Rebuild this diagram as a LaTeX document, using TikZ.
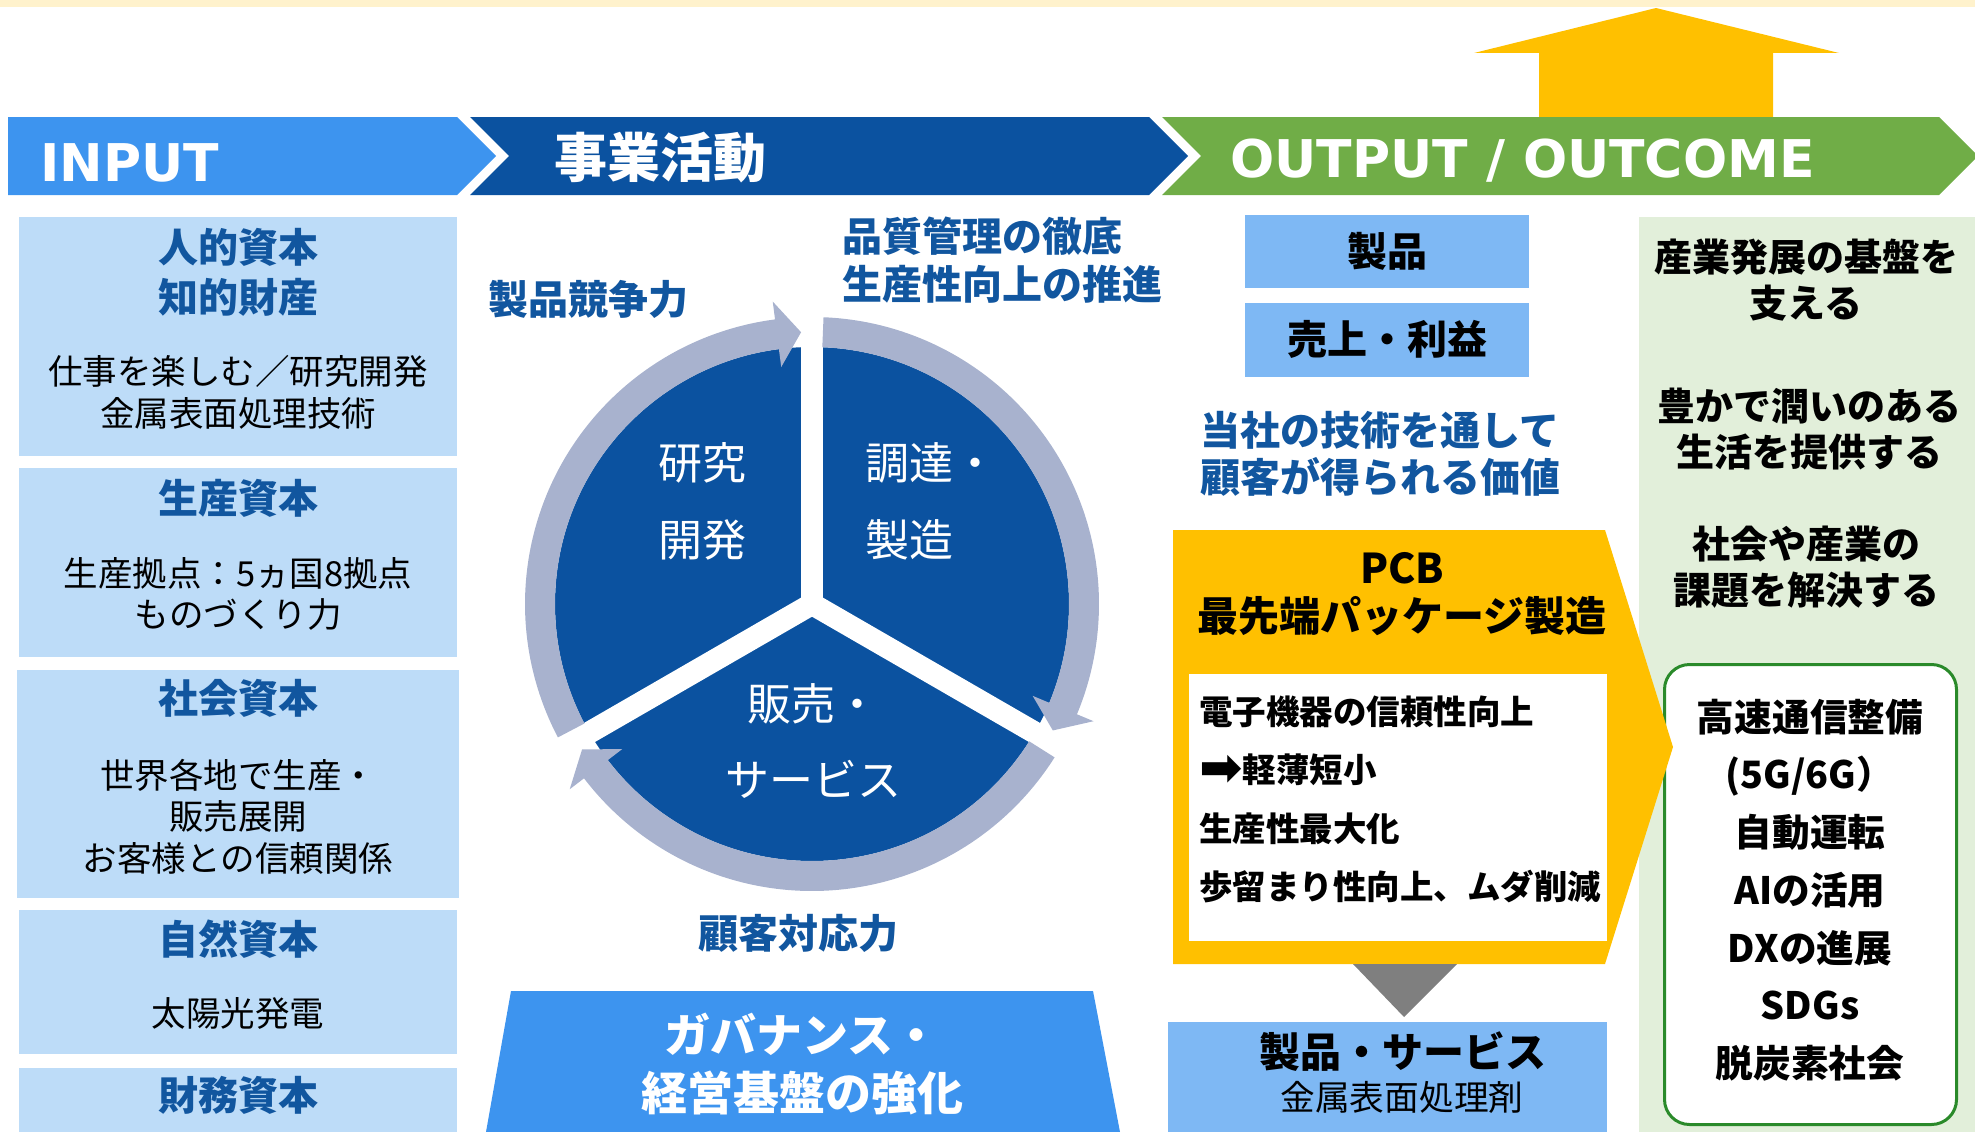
\documentclass[tikz,border=0pt]{standalone}
\usepackage{fontspec}
\setmainfont{Noto Sans CJK JP}
\newfontfamily\latfont{DejaVu Sans}
\usepackage{tikz}
\usetikzlibrary{positioning}

\definecolor{stripyellow}{HTML}{FFF2CC}
\definecolor{inblue}{HTML}{3D94EF}
\definecolor{actblue}{HTML}{0B52A0}
\definecolor{outgreen}{HTML}{70AD47}
\definecolor{paleblue}{HTML}{BDDCF8}
\definecolor{midblue}{HTML}{7EB8F4}
\definecolor{headblue}{HTML}{11569F}
\definecolor{ringgray}{HTML}{A8B2CE}
\definecolor{pcbyellow}{HTML}{FFC000}
\definecolor{palegreen}{HTML}{E2EFDA}
\definecolor{arrowgray}{HTML}{7F7F7F}
\definecolor{boxgreen}{HTML}{2A8A2A}

\newcommand{\fsz}[2]{\fontsize{#1}{#2}\selectfont}

\begin{document}
\begin{tikzpicture}[x=1pt, y=-1pt,
capbox/.style={rectangle, fill=paleblue, inner sep=0pt, minimum width=438pt, anchor=north west},
outbox/.style={rectangle, fill=midblue, inner sep=0pt, anchor=north west, font=\fsz{40}{48}\bfseries},
bandtext/.style={font=\fsz{52}{60}\latfont\bfseries, text=white, inner sep=0pt, anchor=base west},
headtext/.style={font=\fsz{40}{50}\bfseries, text=headblue, align=center, inner sep=0pt},
bodytext/.style={font=\fsz{34.5}{41.5}, align=center, inner sep=0pt},
cycletext/.style={font=\fsz{44}{77}, text=white, inner sep=0pt},
blacktext/.style={font=\fsz{38}{46}\bfseries, align=center, inner sep=0pt},
]
\useasboundingbox (0,0) rectangle (1975,1132);

%Bands
\fill[stripyellow] (0,0) rectangle (1975,7);
\fill[pcbyellow] (1539,117) -- (1539,53) -- (1474,53) -- (1656,8) -- (1839,53) -- (1773,53) -- (1773,117) -- cycle;
\fill[inblue] (8,117) -- (457,117) -- (496,156) -- (457,195) -- (8,195) -- cycle;
\fill[actblue] (470,117) -- (1149,117) -- (1188,156) -- (1149,195) -- (470,195) -- (509,156) -- cycle;
\fill[outgreen] (1162,117) -- (1939,117) -- (1978,156) -- (1939,195) -- (1162,195) -- (1201,156) -- cycle;
\node[bandtext]                               (input)  at (40,181)   {INPUT};
\node[bandtext, font=\fsz{53}{60}\bfseries, anchor=west] (act) at (554,157.5) {事業活動};
\node[bandtext]                               (output) at (1230,177) {OUTPUT / OUTCOME};

%Input capitals
\node[capbox, minimum height=239pt]                          (human)    at (19,217) {};
\node[capbox, minimum height=189pt, below=11pt of human]     (prodcap)  {};
\node[capbox, minimum width=442pt, minimum height=228pt, below=13pt of prodcap] (social) {};
\node[capbox, minimum height=144pt, below=12pt of social]    (natural)  {};
\node[capbox, minimum height=80pt, below=13pt of natural]    (finance)  {};

\node[headtext] (humanhd)   at (238,272)    {人的資本\\知的財産};
\node[bodytext] (humanbd)   at (238,392.5)  {仕事を楽しむ／研究開発\\金属表面処理技術};
\node[headtext] (prodhd)    at (238,498)    {生産資本};
\node[bodytext] (prodbd)    at (238,594)    {生産拠点：5ヵ国8拠点\\ものづくり力};
\node[headtext] (socialhd)  at (238,698)    {社会資本};
\node[bodytext] (socialbd)  at (238,816.5)  {世界各地で生産・\\販売展開\\お客様との信頼関係};
\node[headtext] (naturalhd) at (238,939)    {自然資本};
\node[bodytext] (naturalbd) at (238,1013)   {太陽光発電};
\node[headtext] (financehd) at (238,1095)   {財務資本};

%Business cycle
\begin{scope}[shift={(812,604)}, yscale=-1]
\fill[actblue] (0,0) circle[radius=257];
\foreach \a in {90,210,330}
  \draw[white, line width=22pt] (0,0) -- (\a:262);
\foreach \s/\e in {207.7/97.4, 87.7/-22.6, -32.3/-142.6}
  \fill[ringgray] (\s:287) arc[start angle=\s, end angle=\e, radius=287] -- (\e:305)
    -- ({\e-5.1}:272) -- (\e:239) -- (\e:257) arc[start angle=\e, end angle=\s, radius=257] -- cycle;
\end{scope}
\node[cycletext, align=center]             (rd)    at (702,501.5) {研究\\開発};
\node[cycletext, align=left, anchor=west]  (mfg)   at (865,501.5) {調達・\\製造};
\node[cycletext, align=center, font=\fsz{44}{76}] (sell) at (813,741) {販売・\\サービス};
\node[headtext]                            (compet)  at (588,299) {製品競争力};
\node[headtext, align=left, anchor=west, font=\fsz{40}{48}\bfseries] (quality) at (842,260) {品質管理の徹底\\生産性向上の推進};
\node[headtext]                            (custom)  at (798,933) {顧客対応力};
\fill[inblue] (511,991) -- (1093,991) -- (1120,1132) -- (486,1132) -- cycle;
\node[headtext, font=\fsz{46}{58}\bfseries, text=white] (gov) at (802,1064) {ガバナンス・\\経営基盤の強化};

%Outcome panel
\fill[palegreen] (1639,217) rectangle (1975,1132);
\node[blacktext] (base)  at (1806,280)   {産業発展の基盤を\\支える};
\node[blacktext] (life)  at (1809,429.5) {豊かで潤いのある\\生活を提供する};
\node[blacktext] (issue) at (1806,567.5) {社会や産業の\\課題を解決する};
\node[rectangle, rounded corners=25pt, draw=boxgreen, line width=3pt, fill=white,
      minimum width=292pt, minimum height=460pt, anchor=north west] (future) at (1663,663) {};
\node[blacktext, font=\fsz{37.7}{57.7}\bfseries] (futurelist) at (1810,890)
  {高速通信整備\\(5G/6G）\\自動運転\\AIの活用\\DXの進展\\SDGs\\脱炭素社会};

%Output
\node[outbox, minimum width=284pt, minimum height=73pt]                  (prod)   at (1245,215) {製品};
\node[outbox, minimum width=284pt, minimum height=74pt, below=14pt of prod] (profit) {売上・利益};
\node[headtext, font=\fsz{40}{47}\bfseries] (value) at (1380,453.5) {当社の技術を通して\\顧客が得られる価値};
\fill[pcbyellow] (1173,530) -- (1605,530) -- (1673,747) -- (1605,964) -- (1173,964) -- cycle;
\node[blacktext, font=\fsz{41}{48}\bfseries] (pcb) at (1402,594) {PCB\\最先端パッケージ製造};
\node[rectangle, fill=white, inner sep=0pt, minimum width=418pt, minimum height=267pt,
      anchor=north west] (merit) at (1189,674) {};
\node[blacktext, align=left, anchor=west, font=\fsz{33.5}{58.3}\bfseries] (meritlist) at (1199,799.5)
  {電子機器の信頼性向上\\{\latfont\fontsize{52}{58.3}\selectfont\raisebox{-3pt}{➡}}軽薄短小\\生産性最大化\\歩留まり性向上、ムダ削減};
\fill[arrowgray] (1353,964) -- (1457,964) -- (1404,1017) -- cycle;
\node[outbox, minimum width=439pt, minimum height=120pt] (service) at (1168,1022) {};
\node[blacktext, font=\fsz{41}{48}\bfseries] (servicehd) at (1403,1052) {製品・サービス};
\node[bodytext, font=\fsz{34.7}{41}]         (servicebd) at (1402,1097) {金属表面処理剤};
\end{tikzpicture}
\end{document}
